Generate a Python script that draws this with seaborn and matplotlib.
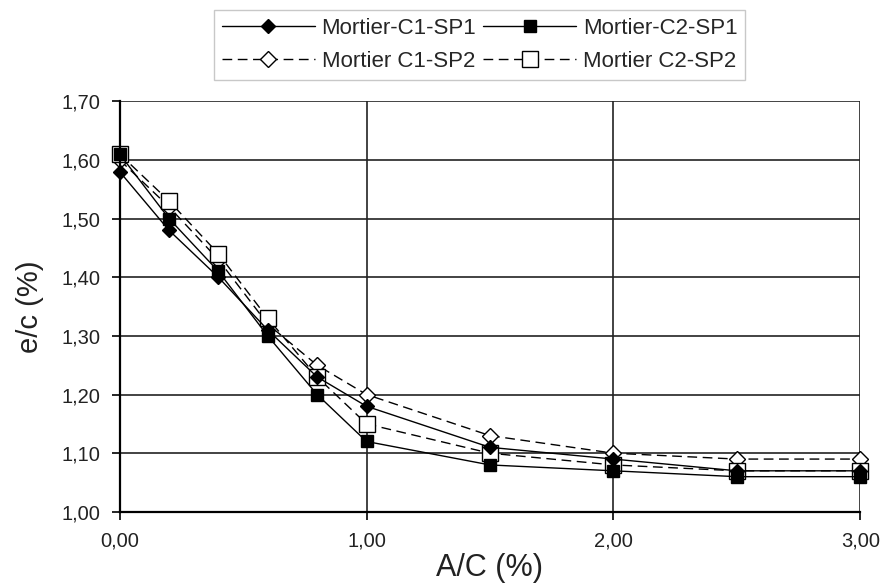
import matplotlib
matplotlib.use("Agg")
import matplotlib.pyplot as plt
from matplotlib.ticker import FuncFormatter, MultipleLocator
import seaborn as sns
import pandas as pd

# A/C dosage (%)
ac = [0.0, 0.2, 0.4, 0.6, 0.8, 1.0, 1.5, 2.0, 2.5, 3.0]

# e/c ratio (%) for each mortar
c1_sp1 = [1.58, 1.48, 1.40, 1.31, 1.23, 1.18, 1.11, 1.09, 1.07, 1.07]
c2_sp1 = [1.61, 1.50, 1.41, 1.30, 1.20, 1.12, 1.08, 1.07, 1.06, 1.06]
c1_sp2 = [1.60, 1.52, 1.43, 1.32, 1.25, 1.20, 1.13, 1.10, 1.09, 1.09]
c2_sp2 = [1.61, 1.53, 1.44, 1.33, 1.23, 1.15, 1.10, 1.08, 1.07, 1.07]

labels = ["Mortier-C1-SP1", "Mortier-C2-SP1", "Mortier C1-SP2", "Mortier C2-SP2"]

sns.set_theme(style="white")
plt.rcParams["font.family"] = ["Liberation Sans", "DejaVu Sans"]

fig = plt.figure(figsize=(8.86, 5.85), dpi=100)
ax = fig.add_axes([0.135, 0.125, 0.836, 0.702])

dashed = (0, (7, 4))
styles = {
    labels[0]: dict(marker="D", ls="-", mfc="black", ms=7),
    labels[1]: dict(marker="s", ls="-", mfc="black", ms=9),
    labels[2]: dict(marker="D", ls=dashed, mfc="white", ms=8),
    labels[3]: dict(marker="s", ls=dashed, mfc="white", ms=11),
}
series = {labels[0]: c1_sp1, labels[1]: c2_sp1, labels[2]: c1_sp2, labels[3]: c2_sp2}

# dashed series first so the filled markers sit on top
for z, name in zip([3, 4, 1, 2], labels):
    df = pd.DataFrame({"A/C": ac, "e/c": series[name]})
    st = styles[name]
    sns.lineplot(data=df, x="A/C", y="e/c", ax=ax, color="black", lw=1.0,
                 linestyle=st["ls"], marker=st["marker"], markersize=st["ms"],
                 markerfacecolor=st["mfc"], markeredgecolor="black",
                 markeredgewidth=1.0, label=name, zorder=z, clip_on=False)

ax.set_xlim(0, 3)
ax.set_ylim(1.0, 1.7)
ax.xaxis.set_major_locator(MultipleLocator(1))
ax.yaxis.set_major_locator(MultipleLocator(0.1))
fmt = FuncFormatter(lambda v, p: f"{v:.2f}".replace(".", ","))
ax.xaxis.set_major_formatter(fmt)
ax.yaxis.set_major_formatter(fmt)

ax.grid(True, color="#222222", lw=1.2)
ax.set_axisbelow(True)
for side in ["top", "right"]:
    ax.spines[side].set_visible(False)
for side in ["left", "bottom"]:
    ax.spines[side].set_color("black")
    ax.spines[side].set_linewidth(1.6)
ax.tick_params(axis="both", direction="out", length=6, width=1.2, color="black",
               labelsize=14.5, labelcolor="#222222", pad=8, bottom=True, left=True)

ax.set_xlabel("A/C (%)", fontsize=22, color="#222222", labelpad=2)
ax.set_ylabel("e/c (%)", fontsize=21, color="#222222", labelpad=12)

h, l = ax.get_legend_handles_labels()
order = [l.index(labels[0]), l.index(labels[2]), l.index(labels[1]), l.index(labels[3])]
leg = ax.legend([h[i] for i in order], [l[i] for i in order], ncol=2,
                loc="lower center", bbox_to_anchor=(0.486, 1.025), frameon=True,
                fancybox=False, edgecolor="#bbbbbb", fontsize=16,
                handlelength=4.2, columnspacing=0.3, handletextpad=0.3,
                borderpad=0.35, labelspacing=0.55)
leg.get_frame().set_linewidth(1.0)

fig.savefig("out.png", dpi=100, facecolor="white")
